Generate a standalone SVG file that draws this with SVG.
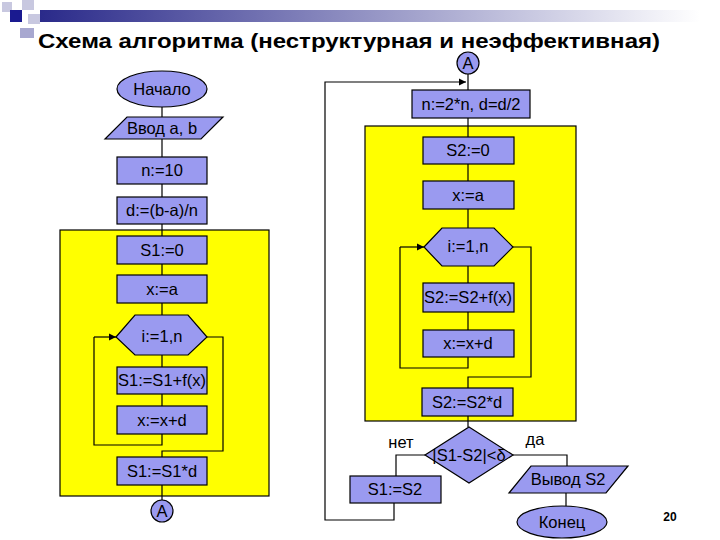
<svg xmlns="http://www.w3.org/2000/svg" width="720" height="540" viewBox="0 0 720 540">
<defs>
<linearGradient id="bar" x1="0" x2="1" y1="0" y2="0"><stop offset="0" stop-color="#2a2a8a"/><stop offset="1" stop-color="#ffffff"/></linearGradient>
<marker id="ar" viewBox="0 0 10 10" refX="10" refY="5" markerWidth="6" markerHeight="6" orient="auto"><path d="M0,0 L10,5 L0,10 z" fill="#000"/></marker>
</defs>
<style>
.b{fill:#9a9af0;stroke:#000;stroke-width:1.2}
.y{fill:#ffff00;stroke:#000;stroke-width:1.2}
.l{fill:none;stroke:#000;stroke-width:1.2}
text{font-family:"Liberation Sans",Arial,sans-serif;font-size:16.5px;text-anchor:middle;fill:#000}
</style>
<rect width="720" height="540" fill="#fff"/>
<g id="decor">
<rect x="40" y="10" width="660" height="12" fill="url(#bar)"/>
<rect x="2" y="2" width="10" height="10" fill="#c8c8e0"/>
<rect x="22" y="0" width="12" height="10" fill="#c8c8e0"/>
<rect x="10" y="10" width="12" height="12" fill="#1a1a90"/>
<rect x="28" y="14" width="12" height="10" fill="#c8c8e0"/>
<rect x="20" y="28" width="14" height="10" fill="#a8a8d0"/>
</g>
<text x="38" y="48" textLength="622" lengthAdjust="spacingAndGlyphs" style="font-size:21px;font-weight:bold;text-anchor:start">Схема алгоритма (неструктурная и неэффективная)</text>
<rect class="y" x="60" y="230" width="209" height="266"/>
<rect class="y" x="365" y="126" width="211" height="295"/>
<g id="connectors">
<path class="l" d="M162,107V117M162,139V157M162,184V197M162,224V236M162,264V275M162,303V315M162,355V367M162,394V406M162,434V445H94V337"/>
<path class="l" d="M94,337H116" marker-end="url(#ar)"/>
<path class="l" d="M207,337H223V451H162V457M162,485V500"/>
<path class="l" d="M468,74V90M468,118V137M468,164V181M468,209V228M468,266V283M468,312V330M468,357V368H400V247"/>
<path class="l" d="M400,247H424" marker-end="url(#ar)"/>
<path class="l" d="M513,247H531V377H468V388M468,416V427"/>
<path class="l" d="M425,455H396V476M513,455H567V466M566,493V506"/>
<path class="l" d="M394,503V520H325V82H466" marker-end="url(#ar)"/>
</g>
<g id="start"><ellipse class="b" cx="162" cy="89" rx="45" ry="18"/><text x="162" y="95">Начало</text></g>
<g id="input"><polygon class="b" points="105,139 127,117 223,117 201,139"/><text x="162" y="134">Ввод a, b</text></g>
<g id="n10"><rect class="b" x="117" y="157" width="90" height="27"/><text x="162" y="176">n:=10</text></g>
<g id="d"><rect class="b" x="117" y="197" width="90" height="27"/><text x="162" y="216">d:=(b-a)/n</text></g>
<g id="s10"><rect class="b" x="117" y="236" width="90" height="28"/><text x="162" y="256">S1:=0</text></g>
<g id="xa1"><rect class="b" x="117" y="275" width="90" height="28"/><text x="162" y="295">x:=a</text></g>
<g id="loop1"><polygon class="b" points="116,337 135,315 188,315 207,337 188,355 135,355"/><text x="162" y="342">i:=1,n</text></g>
<g id="s1f"><rect class="b" x="117" y="367" width="90" height="27"/><text x="162" y="386">S1:=S1+f(x)</text></g>
<g id="xd1"><rect class="b" x="117" y="406" width="90" height="28"/><text x="162" y="426">x:=x+d</text></g>
<g id="s1d"><rect class="b" x="117" y="457" width="90" height="28"/><text x="162" y="477">S1:=S1*d</text></g>
<g id="A1"><circle class="b" cx="162" cy="511" r="11"/><text x="162" y="517">A</text></g>
<g id="A2"><circle class="b" cx="468" cy="63" r="11"/><text x="468" y="69">A</text></g>
<g id="n2"><rect class="b" x="412" y="90" width="118" height="28"/><text x="471" y="110">n:=2*n, d=d/2</text></g>
<g id="s20"><rect class="b" x="423" y="137" width="91" height="27"/><text x="468" y="156">S2:=0</text></g>
<g id="xa2"><rect class="b" x="423" y="181" width="91" height="28"/><text x="468" y="201">x:=a</text></g>
<g id="loop2"><polygon class="b" points="424,247 442,228 494,228 513,247 494,266 442,266"/><text x="468" y="252">i:=1,n</text></g>
<g id="s2f"><rect class="b" x="423" y="283" width="91" height="29"/><text x="468" y="303">S2:=S2+f(x)</text></g>
<g id="xd2"><rect class="b" x="423" y="330" width="91" height="27"/><text x="468" y="349">x:=x+d</text></g>
<g id="s2d"><rect class="b" x="422" y="388" width="91" height="28"/><text x="467" y="408">S2:=S2*d</text></g>
<g id="cond"><polygon class="b" points="469,427 513,455 469,483 425,455"/><text x="469" y="461">|S1-S2|&lt;δ</text></g>
<text x="401" y="448">нет</text>
<text x="535" y="445">да</text>
<g id="s1s2"><rect class="b" x="350" y="476" width="91" height="27"/><text x="395" y="495">S1:=S2</text></g>
<g id="out"><polygon class="b" points="509,493 531,466 628,466 606,493"/><text x="568" y="485">Вывод S2</text></g>
<g id="end"><ellipse class="b" cx="562" cy="522" rx="45" ry="16"/><text x="562" y="528">Конец</text></g>
<text x="670" y="521" style="font-size:12px;font-weight:bold">20</text>
</svg>
